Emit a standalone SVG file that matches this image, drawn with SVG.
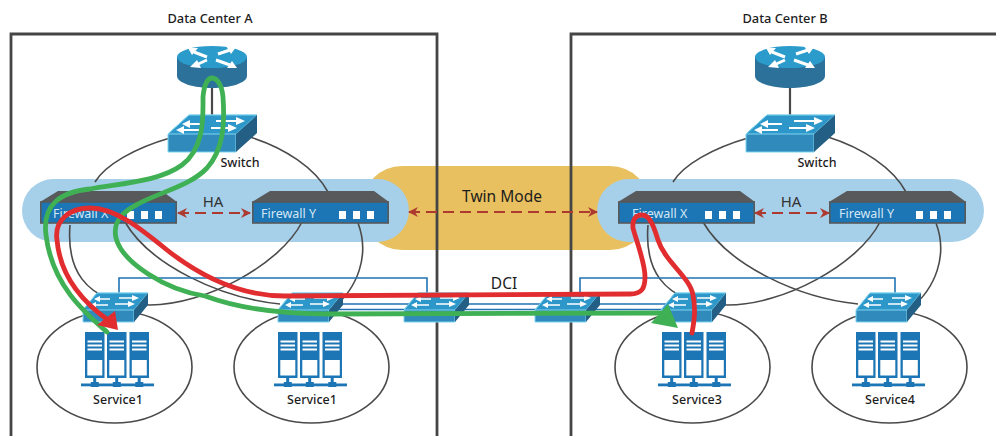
<svg xmlns="http://www.w3.org/2000/svg" xmlns:xlink="http://www.w3.org/1999/xlink" width="996" height="436" viewBox="0 0 996 436">
<style>
text{font-family:"Noto Sans","Open Sans","Liberation Sans",sans-serif;fill:#1d1d1d;text-anchor:middle}
.title{font-size:12.800px;font-weight:500}
.lbl{font-size:12.500px;font-weight:500}
.ha{font-size:15px;fill:#333}
.big{font-size:15.500px}
.fw{font-size:12.500px;fill:#d4e7f5;text-anchor:start}
.frame{fill:none;stroke:#454545;stroke-width:2.800}
.ring{fill:none;stroke:#4a4a4a;stroke-width:1.600}
.dci{fill:none;stroke:#2273b5;stroke-width:1.600}
.link{fill:none;stroke:#4a4a4a;stroke-width:2.200}
.dash{fill:none;stroke:#ad3a2f;stroke-width:2;stroke-dasharray:11 6;marker-start:url(#ah);marker-end:url(#ah)}
.g{fill:none;stroke:#3fb154;stroke-width:4.800;stroke-linecap:round;stroke-linejoin:round}
.r{fill:none;stroke:#e12d2f;stroke-width:4.800;stroke-linecap:round;stroke-linejoin:round}
.w{fill:#fff}
.wl{fill:none;stroke:#fff;stroke-width:2.200}
</style>
<defs>
<marker id="ah" viewBox="0 0 10 10" refX="9" refY="5" markerWidth="10" markerHeight="10" orient="auto-start-reverse" markerUnits="userSpaceOnUse"><path d="M0,0L10,5L0,10L3,5Z" fill="#ad3a2f"/></marker>
<symbol id="router" overflow="visible">
<path d="M-35,10V29C-35,36 -18,41 0,41C18,41 35,36 35,29V10Z" fill="#2c7199"/>
<ellipse cx="0" cy="10" rx="35" ry="11" fill="#2a9bcb"/>
<path d="M-18,5L-5,10M-5,13L-16,18M6,7L18,3M4,13L18,18" class="wl" style="stroke-width:3"/>
<path d="M-24,1L-14,1L-20,8ZM-22,20L-11,21L-15,13ZM24,0L14,-1L19,7ZM25,21L15,21L20,14Z" class="w"/>
</symbol>
<symbol id="sw" overflow="visible">
<path d="M0,19L21,0H89L68,19V37H0Z" fill="#318abc" stroke="#7fd3ef" stroke-width="1"/>
<path d="M0,19L21,0H89L68,19Z" fill="#2e97c9" stroke="#7fd3ef" stroke-width="1"/>
<path d="M68,19L89,0V18L68,37Z" fill="#235f84"/>
<path d="M20,9H36M48,6H70M13,15H32M43,13H62" class="wl"/>
<path d="M22,5L14,9L22,13ZM68,2L77,6L68,10ZM16,11L8,15L16,19ZM60,9L69,13L60,17Z" class="w"/>
</symbol>
<symbol id="ssw" overflow="visible">
<path d="M0,17L14,0H65L51,17V29H0Z" fill="#318abc" stroke="#7fd3ef" stroke-width="1"/>
<path d="M0,17L14,0H65L51,17Z" fill="#2e97c9" stroke="#7fd3ef" stroke-width="1"/>
<path d="M51,17L65,0V12L51,29Z" fill="#235f84"/>
<path d="M17,6H27M36,5H50M12,12H25M32,11H46" class="wl" style="stroke-width:1.700"/>
<path d="M17,3L11,6L17,9ZM49,2L56,5L49,8ZM13,9L7,12L13,15ZM45,8L52,11L45,14Z" class="w"/>
</symbol>
<symbol id="fwall" overflow="visible">
<path d="M0,11L18,0H122L137,11Z" fill="#58595b"/>
<rect x="0.800" y="11" width="135.400" height="21" fill="#1c75b4" stroke="#58595b" stroke-width="1.600"/>
<rect x="87" y="20" width="7" height="8" class="w"/>
<rect x="101" y="20" width="7" height="8" class="w"/>
<rect x="115" y="20" width="7" height="8" class="w"/>
</symbol>
<symbol id="tower" overflow="visible">
<rect width="19.500" height="46" fill="#1c75b4"/>
<path d="M2.500,9.500H17M2.500,13.500H17M2.500,17.500H17" fill="none" stroke="#fff" stroke-width="1.900"/>
<rect x="2.300" y="28" width="15" height="15.500" class="w"/>
<rect x="8.200" y="46" width="3" height="6" fill="#1c75b4"/>
<rect x="5.800" y="50" width="8" height="5" fill="#1c75b4"/>
</symbol>
<symbol id="rack" overflow="visible">
<use xlink:href="#tower" href="#tower" x="0" y="0"/>
<use xlink:href="#tower" href="#tower" x="22" y="0"/>
<use xlink:href="#tower" href="#tower" x="44.500" y="0"/>
<rect x="-4" y="51.500" width="73" height="2.800" fill="#1c75b4"/>
</symbol>
</defs>
<rect width="996" height="436" fill="#fff"/>
<g id="backgrounds">
<rect x="362" y="166" width="288" height="84" rx="40" fill="#e9c05f"/>
<rect x="22" y="179" width="387" height="63" rx="31.500" fill="#a6cfe9"/>
<rect x="597" y="179" width="387" height="63" rx="31.500" fill="#a6cfe9"/>
</g>
<g id="frames">
<path class="frame" d="M11,436V34H437V436"/>
<path class="frame" d="M571,436V34H997"/>
<text class="title" x="210" y="23">Data Center A</text>
<text class="title" x="785" y="23">Data Center B</text>
</g>
<g id="connectors">
<g id="rings-a">
<path class="ring" d="M170,138C135,148 105,165 95,182M70,225C67,262 78,305 150,305C205,305 280,265 302,222"/>
<path class="ring" d="M250,137C285,148 315,168 328,192M358,223C370,255 358,288 332,309M280,304C220,298 150,265 125,222"/>
<ellipse class="ring" cx="114.500" cy="367" rx="77.500" ry="56"/>
<ellipse class="ring" cx="311.500" cy="367" rx="77.500" ry="56"/>
</g>
<g id="rings-b">
<path class="ring" d="M748,138C713,148 683,165 673,182M648,225C645,262 656,305 728,305C783,305 858,265 880,222"/>
<path class="ring" d="M828,137C863,148 893,168 906,192M936,223C948,255 936,288 910,309M858,304C798,298 728,265 703,222"/>
<ellipse class="ring" cx="692.500" cy="367" rx="77.500" ry="56"/>
<ellipse class="ring" cx="889.500" cy="367" rx="77.500" ry="56"/>
</g>
<path class="link" d="M212,85V116M790,85V116"/>
<path class="dci" d="M119,294V278H427V294M580,294V278H895V294"/>
<path class="dci" d="M330,304H410M330,309.500H410M455,304H540M455,309.500H540M585,304H670M585,309.500H670"/>
<path class="dash" d="M178,213H250"/>
<path class="dash" d="M755,213H829"/>
<path class="dash" d="M409,212H597"/>
</g>
<g id="router-a"><use xlink:href="#router" href="#router" x="212" y="47"/></g>
<g id="router-b"><use xlink:href="#router" href="#router" x="790" y="47"/></g>
<g id="switch-a"><use xlink:href="#sw" href="#sw" x="168" y="115"/><text class="lbl" x="240" y="167">Switch</text></g>
<g id="switch-b"><use xlink:href="#sw" href="#sw" x="746" y="115"/><text class="lbl" x="817" y="167">Switch</text></g>
<g id="firewall-ax"><use xlink:href="#fwall" href="#fwall" x="40" y="191"/><text class="fw" x="53" y="218">Firewall X</text></g>
<g id="firewall-ay"><use xlink:href="#fwall" href="#fwall" x="252" y="191"/><text class="fw" x="261" y="218">Firewall Y</text></g>
<g id="firewall-bx"><use xlink:href="#fwall" href="#fwall" x="618" y="191"/><text class="fw" x="632" y="218">Firewall X</text></g>
<g id="firewall-by"><use xlink:href="#fwall" href="#fwall" x="829" y="191"/><text class="fw" x="839" y="218">Firewall Y</text></g>
<g id="labels">
<text class="ha" x="213" y="207">HA</text>
<text class="ha" x="791" y="207">HA</text>
<text class="big" x="502" y="202">Twin Mode</text>
<text class="big" x="504" y="289">DCI</text>
</g>
<g id="access-a1"><use xlink:href="#ssw" href="#ssw" x="83" y="293"/></g>
<g id="access-a2"><use xlink:href="#ssw" href="#ssw" x="278" y="293"/></g>
<g id="dci-a"><use xlink:href="#ssw" href="#ssw" x="404" y="293"/></g>
<g id="dci-b"><use xlink:href="#ssw" href="#ssw" x="535" y="293"/></g>
<g id="access-b1"><use xlink:href="#ssw" href="#ssw" x="661" y="293"/></g>
<g id="access-b2"><use xlink:href="#ssw" href="#ssw" x="856" y="293"/></g>
<g id="service-a1"><use xlink:href="#rack" href="#rack" x="85" y="332"/><text class="lbl" x="118" y="404">Service1</text></g>
<g id="service-a2"><use xlink:href="#rack" href="#rack" x="278" y="332"/><text class="lbl" x="312" y="404">Service1</text></g>
<g id="service-b1"><use xlink:href="#rack" href="#rack" x="662" y="332"/><text class="lbl" x="697" y="404">Service3</text></g>
<g id="service-b2"><use xlink:href="#rack" href="#rack" x="856" y="332"/><text class="lbl" x="890" y="404">Service4</text></g>
<g id="traffic">
<path class="g" d="M107,332C85,313 52,285 46,235C42,205 60,192 90,189C125,183 160,181 182,165C205,148 203,115 203,97C204,84 208,78 212,78C217,78 222,85 223,97C225,125 223,150 207,168C190,186 160,192 138,204C118,214 113,225 116,238C122,262 165,290 205,296C240,309 285,314 330,314L660,313"/>
<polygon points="668,304 651,323 678,328" fill="#3fb154"/>
<path class="r" d="M108,320C80,300 60,275 57,240C54,220 70,208 90,208C115,208 140,228 167,250C195,272 235,296 285,296L630,294C642,294 645,288 645,277C645,262 636,240 633,228C632,218 637,215 642,215C650,215 654,227 658,240C665,262 690,277 693,295C696,310 694,322 692,333"/>
<polygon points="115,311 97,325 118,330" fill="#e12d2f"/>
</g>
</svg>
